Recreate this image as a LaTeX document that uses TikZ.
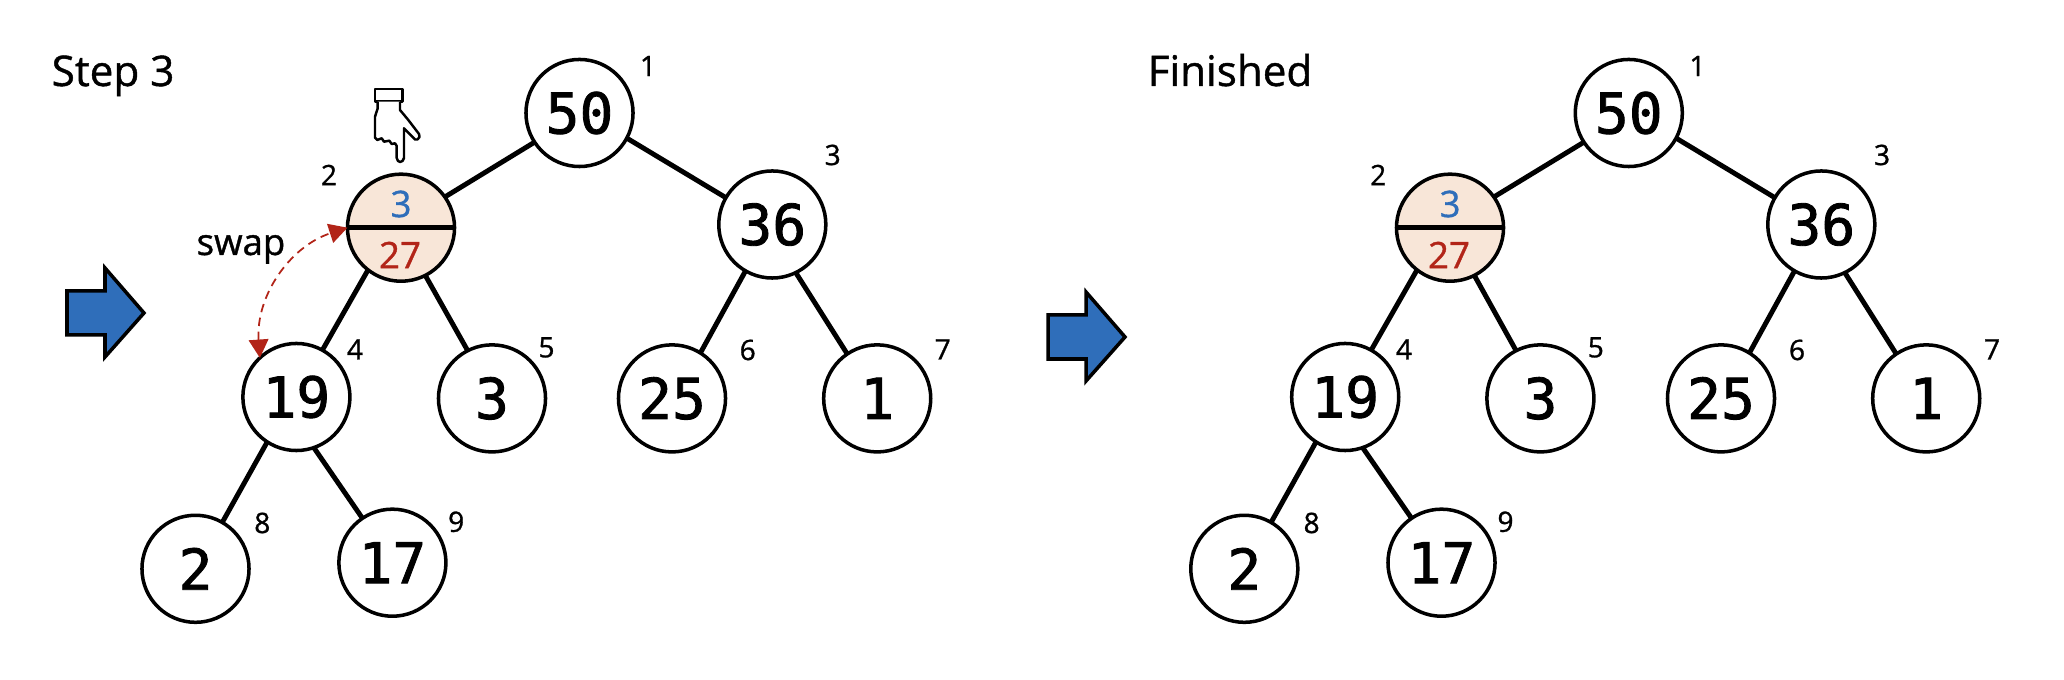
\documentclass[tikz,border=0pt]{standalone}
\usepackage{fontspec}
\setmainfont{Open Sans}
\newfontfamily\labelfont[FakeBold=1]{Open Sans}
\newfontfamily\valuefont[FakeBold=1.5]{DejaVu Sans Mono}
\usetikzlibrary{arrows.meta}
\definecolor{swapred}{HTML}{B22418}
\definecolor{swapblue}{HTML}{2F6EBA}
\definecolor{swapfill}{HTML}{F8E6D8}
\tikzset{
	treenode/.style={draw, circle, fill=white, line width=1pt, minimum size=1.07cm, inner sep=0pt, outer sep=0pt, font=\valuefont\fontsize{16}{18}\selectfont},
	swapnode/.style={treenode, fill=swapfill},
	numlabel/.style={inner sep=0pt, font=\labelfont\fontsize{8}{10}\selectfont},
	titlelabel/.style={anchor=base west, inner sep=0pt, font=\labelfont\fontsize{12}{14}\selectfont},
	swaplabel/.style={inner sep=0pt, font=\labelfont\fontsize{10.4}{12}\selectfont},
	edgeline/.style={line width=1.4pt},
	bluearrow/.style={draw, fill=swapblue, line width=1pt, miter limit=10},
	swaparrow/.style={swapred, dashed, dash pattern=on 2.4pt off 1.6pt, line width=.5pt, {Triangle[length=5.2pt,width=5.6pt]}-{Triangle[length=5.2pt,width=5.6pt]}}
}
\begin{document}
\begin{tikzpicture}[x=.01cm,y=-.01cm]
	\useasboundingbox (0,0) rectangle (2064,680);
	\node[titlelabel] (steptitle) at (51,86) {Step 3};
	\node[titlelabel] (fintitle) at (1147,86) {Finished};

	% left arrow
	\draw[bluearrow] (67,291) -- (105,291) -- (105,268) -- (144,313) -- (105,357) -- (105,335) -- (67,335) -- cycle;
	% right arrow
	\draw[bluearrow] (1048,315) -- (1086,315) -- (1086,292) -- (1125,337) -- (1086,381) -- (1086,359) -- (1048,359) -- cycle;

	% left tree
	\node[treenode] (la) at (579.5,113) {50};
	\node[swapnode] (lb) at (401,227.7) {};
	\node[treenode] (lc) at (772.3,224.5) {36};
	\node[treenode] (ld) at (296.4,397) {19};
	\node[treenode] (le) at (492,398.4) {3};
	\node[treenode] (lf) at (672,398.4) {25};
	\node[treenode] (lg) at (877.2,398.4) {1};
	\node[treenode] (lh) at (195.5,568.8) {2};
	\node[treenode] (li) at (392.4,562.7) {17};
	\draw[edgeline] (la.213) -- (lb.35);
	\draw[edgeline] (la.-28) -- (lc.150);
	\draw[edgeline] (lb.232) -- (ld.61);
	\draw[edgeline] (lb.297) -- (le.117);
	\draw[edgeline] (lc.240) -- (lf.58);
	\draw[edgeline] (lc.296) -- (lg.124);
	\draw[edgeline] (ld.237) -- (lh.60);
	\draw[edgeline] (ld.289) -- (li.124);
	\draw[edgeline] (lb.west) -- (lb.east);
	\node[swaplabel, swapblue] (lbtop) at (401,204) {3};
	\node[swaplabel, swapred] (lbbot) at (400,255) {27};
	\node[numlabel] (lnuma) at (648,66) {1};
	\node[numlabel] (lnumb) at (329,175) {2};
	\node[numlabel] (lnumc) at (832.7,155) {3};
	\node[numlabel] (lnumd) at (355,349.4) {4};
	\node[numlabel] (lnume) at (546.5,347.4) {5};
	\node[numlabel] (lnumf) at (747.7,350) {6};
	\node[numlabel] (lnumg) at (942.7,349.4) {7};
	\node[numlabel] (lnumh) at (262.3,523) {8};
	\node[numlabel] (lnumi) at (456.2,521.8) {9};

	% swap
	\draw[swaparrow] (ld.133) to[bend left=38] (lb.west);
	\node[swaplabel, anchor=base] (swaptext) at (241,255) {swap};

	% hand
	\draw[line width=.7pt, line join=round, fill=white] (375,89) rectangle (402.3,101.7);
	\draw[line width=.7pt, line join=round, fill=white] (377.7,101.7) -- (377.7,108.3) -- (375,116.7) -- (375,137.7) -- (377.3,140) -- (381.7,138.3) -- (384,141.7) -- (389.3,140.7) -- (391.7,144) -- (395,143.3) -- (396.7,146) -- (396.7,158) -- (398,161) -- (400,162) -- (402.5,161) -- (404,158) -- (404,128.3) -- (415,139.5) -- (417.5,139.5) -- (419.5,137) -- (419,134) -- (408.3,120) -- (400,110) -- (400,101.7);

	% right tree
	\node[treenode] (ra) at (1628.8,113) {50};
	\node[swapnode] (rb) at (1450,227.7) {};
	\node[treenode] (rc) at (1821.3,224.5) {36};
	\node[treenode] (rd) at (1345.2,397) {19};
	\node[treenode] (re) at (1540.4,398.4) {3};
	\node[treenode] (rf) at (1721,398.4) {25};
	\node[treenode] (rg) at (1926.2,398.4) {1};
	\node[treenode] (rh) at (1244.3,568.8) {2};
	\node[treenode] (ri) at (1441.5,562.7) {17};
	\draw[edgeline] (ra.213) -- (rb.35);
	\draw[edgeline] (ra.-28) -- (rc.150);
	\draw[edgeline] (rb.232) -- (rd.61);
	\draw[edgeline] (rb.297) -- (re.117);
	\draw[edgeline] (rc.240) -- (rf.58);
	\draw[edgeline] (rc.296) -- (rg.124);
	\draw[edgeline] (rd.237) -- (rh.60);
	\draw[edgeline] (rd.289) -- (ri.124);
	\draw[edgeline] (rb.west) -- (rb.east);
	\node[swaplabel, swapblue] (rbtop) at (1450,204) {3};
	\node[swaplabel, swapred] (rbbot) at (1449,255) {27};
	\node[numlabel] (rnuma) at (1697.4,66) {1};
	\node[numlabel] (rnumb) at (1378.2,175) {2};
	\node[numlabel] (rnumc) at (1882,155) {3};
	\node[numlabel] (rnumd) at (1404,349.4) {4};
	\node[numlabel] (rnume) at (1595.8,347.4) {5};
	\node[numlabel] (rnumf) at (1797,350) {6};
	\node[numlabel] (rnumg) at (1992,349.4) {7};
	\node[numlabel] (rnumh) at (1311.6,523) {8};
	\node[numlabel] (rnumi) at (1505.5,521.8) {9};
\end{tikzpicture}
\end{document}
